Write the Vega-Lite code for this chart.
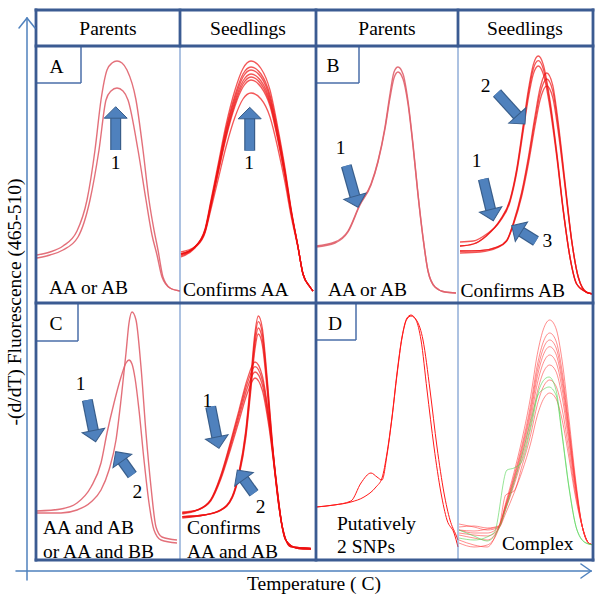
{
"$schema": "https://vega.github.io/schema/vega-lite/v6.json",
"width": 600, "height": 600, "padding": 0,
"autosize": {"type": "fit", "contains": "padding"},
"config": {"view": {"stroke": null}, "text": {"font": "Liberation Serif, Times New Roman, serif"}},
"datasets": {
"curves": [
{"c":"A1","k":"p","x":37,"y":255},{"c":"A1","k":"p","x":50,"y":252},{"c":"A1","k":"p","x":63,"y":246},{"c":"A1","k":"p","x":77,"y":231},{"c":"A1","k":"p","x":87,"y":200},{"c":"A1","k":"p","x":95,"y":150},{"c":"A1","k":"p","x":101,"y":100},{"c":"A1","k":"p","x":107,"y":70},{"c":"A1","k":"p","x":112,"y":63},{"c":"A1","k":"p","x":117,"y":61},{"c":"A1","k":"p","x":122,"y":63},{"c":"A1","k":"p","x":127,"y":70},{"c":"A1","k":"p","x":136,"y":100},{"c":"A1","k":"p","x":143,"y":150},{"c":"A1","k":"p","x":149,"y":200},{"c":"A1","k":"p","x":154,"y":230},{"c":"A1","k":"p","x":158,"y":250},{"c":"A1","k":"p","x":163,"y":277},{"c":"A1","k":"p","x":170,"y":288},{"c":"A1","k":"p","x":180,"y":291},
{"c":"A2","k":"p","x":37,"y":258},{"c":"A2","k":"p","x":50,"y":255},{"c":"A2","k":"p","x":63,"y":250},{"c":"A2","k":"p","x":78,"y":237},{"c":"A2","k":"p","x":90,"y":200},{"c":"A2","k":"p","x":99,"y":150},{"c":"A2","k":"p","x":106,"y":100},{"c":"A2","k":"p","x":111,"y":91},{"c":"A2","k":"p","x":117,"y":88},{"c":"A2","k":"p","x":123,"y":91},{"c":"A2","k":"p","x":128,"y":100},{"c":"A2","k":"p","x":138,"y":150},{"c":"A2","k":"p","x":146,"y":200},{"c":"A2","k":"p","x":152,"y":235},{"c":"A2","k":"p","x":157,"y":255},{"c":"A2","k":"p","x":162,"y":277},{"c":"A2","k":"p","x":170,"y":288},{"c":"A2","k":"p","x":180,"y":291},
{"c":"S1","k":"s","x":181,"y":252},{"c":"S1","k":"s","x":195,"y":246.5},{"c":"S1","k":"s","x":205,"y":229},{"c":"S1","k":"s","x":211,"y":200},{"c":"S1","k":"s","x":218,"y":165},{"c":"S1","k":"s","x":226,"y":125},{"c":"S1","k":"s","x":235,"y":90},{"c":"S1","k":"s","x":243,"y":68.5},{"c":"S1","k":"s","x":251,"y":61},{"c":"S1","k":"s","x":261,"y":68.5},{"c":"S1","k":"s","x":270,"y":90},{"c":"S1","k":"s","x":278,"y":128.6},{"c":"S1","k":"s","x":285,"y":168},{"c":"S1","k":"s","x":291,"y":208},{"c":"S1","k":"s","x":298,"y":246.5},{"c":"S1","k":"s","x":303,"y":274},{"c":"S1","k":"s","x":310,"y":287},{"c":"S1","k":"s","x":313,"y":291},
{"c":"S2","k":"s","x":181,"y":254},{"c":"S2","k":"s","x":195,"y":246.7},{"c":"S2","k":"s","x":205,"y":230},{"c":"S2","k":"s","x":211,"y":202},{"c":"S2","k":"s","x":218,"y":168},{"c":"S2","k":"s","x":226,"y":129},{"c":"S2","k":"s","x":235,"y":95},{"c":"S2","k":"s","x":243,"y":74},{"c":"S2","k":"s","x":251,"y":67},{"c":"S2","k":"s","x":261,"y":74},{"c":"S2","k":"s","x":270,"y":95},{"c":"S2","k":"s","x":278,"y":132},{"c":"S2","k":"s","x":285,"y":171},{"c":"S2","k":"s","x":291,"y":209},{"c":"S2","k":"s","x":298,"y":246.7},{"c":"S2","k":"s","x":303,"y":274},{"c":"S2","k":"s","x":310,"y":287},{"c":"S2","k":"s","x":313,"y":291},
{"c":"S3","k":"s","x":181,"y":255},{"c":"S3","k":"s","x":195,"y":246.8},{"c":"S3","k":"s","x":205,"y":230.5},{"c":"S3","k":"s","x":211,"y":203},{"c":"S3","k":"s","x":218,"y":169},{"c":"S3","k":"s","x":226,"y":131},{"c":"S3","k":"s","x":235,"y":98},{"c":"S3","k":"s","x":243,"y":77},{"c":"S3","k":"s","x":251,"y":70},{"c":"S3","k":"s","x":261,"y":77},{"c":"S3","k":"s","x":270,"y":98},{"c":"S3","k":"s","x":278,"y":134.4},{"c":"S3","k":"s","x":285,"y":172},{"c":"S3","k":"s","x":291,"y":210},{"c":"S3","k":"s","x":298,"y":246.8},{"c":"S3","k":"s","x":303,"y":274},{"c":"S3","k":"s","x":310,"y":287},{"c":"S3","k":"s","x":313,"y":291},
{"c":"S4","k":"s","x":181,"y":254},{"c":"S4","k":"s","x":195,"y":247},{"c":"S4","k":"s","x":205,"y":231},{"c":"S4","k":"s","x":211,"y":204},{"c":"S4","k":"s","x":218,"y":171},{"c":"S4","k":"s","x":226,"y":134},{"c":"S4","k":"s","x":235,"y":101},{"c":"S4","k":"s","x":243,"y":81},{"c":"S4","k":"s","x":251,"y":74},{"c":"S4","k":"s","x":261,"y":81},{"c":"S4","k":"s","x":270,"y":101},{"c":"S4","k":"s","x":278,"y":137},{"c":"S4","k":"s","x":285,"y":174},{"c":"S4","k":"s","x":291,"y":211},{"c":"S4","k":"s","x":298,"y":247},{"c":"S4","k":"s","x":303,"y":274},{"c":"S4","k":"s","x":310,"y":287},{"c":"S4","k":"s","x":313,"y":291},
{"c":"S5","k":"s","x":181,"y":256},{"c":"S5","k":"s","x":195,"y":247},{"c":"S5","k":"s","x":205,"y":231.4},{"c":"S5","k":"s","x":211,"y":205},{"c":"S5","k":"s","x":218,"y":172.4},{"c":"S5","k":"s","x":226,"y":136},{"c":"S5","k":"s","x":235,"y":103.6},{"c":"S5","k":"s","x":243,"y":84},{"c":"S5","k":"s","x":251,"y":77},{"c":"S5","k":"s","x":261,"y":84},{"c":"S5","k":"s","x":270,"y":103.6},{"c":"S5","k":"s","x":278,"y":139},{"c":"S5","k":"s","x":285,"y":175.4},{"c":"S5","k":"s","x":291,"y":211.7},{"c":"S5","k":"s","x":298,"y":247},{"c":"S5","k":"s","x":303,"y":274},{"c":"S5","k":"s","x":310,"y":287},{"c":"S5","k":"s","x":313,"y":291},
{"c":"S6","k":"s","x":181,"y":254},{"c":"S6","k":"s","x":195,"y":247},{"c":"S6","k":"s","x":205,"y":232},{"c":"S6","k":"s","x":211,"y":206},{"c":"S6","k":"s","x":218,"y":174},{"c":"S6","k":"s","x":226,"y":138},{"c":"S6","k":"s","x":235,"y":106},{"c":"S6","k":"s","x":243,"y":87},{"c":"S6","k":"s","x":251,"y":80},{"c":"S6","k":"s","x":261,"y":87},{"c":"S6","k":"s","x":270,"y":106},{"c":"S6","k":"s","x":278,"y":141},{"c":"S6","k":"s","x":285,"y":177},{"c":"S6","k":"s","x":291,"y":212},{"c":"S6","k":"s","x":298,"y":247},{"c":"S6","k":"s","x":303,"y":274},{"c":"S6","k":"s","x":310,"y":287},{"c":"S6","k":"s","x":313,"y":291},
{"c":"S7","k":"s","x":181,"y":257},{"c":"S7","k":"s","x":195,"y":248},{"c":"S7","k":"s","x":205,"y":233},{"c":"S7","k":"s","x":211,"y":209},{"c":"S7","k":"s","x":218,"y":180},{"c":"S7","k":"s","x":226,"y":147},{"c":"S7","k":"s","x":235,"y":117},{"c":"S7","k":"s","x":243,"y":99},{"c":"S7","k":"s","x":251,"y":93},{"c":"S7","k":"s","x":261,"y":99},{"c":"S7","k":"s","x":270,"y":117},{"c":"S7","k":"s","x":278,"y":149},{"c":"S7","k":"s","x":285,"y":182.5},{"c":"S7","k":"s","x":291,"y":215.6},{"c":"S7","k":"s","x":298,"y":248},{"c":"S7","k":"s","x":303,"y":274},{"c":"S7","k":"s","x":310,"y":287},{"c":"S7","k":"s","x":313,"y":291},
{"c":"B1","k":"p","x":316,"y":246},{"c":"B1","k":"p","x":335,"y":242},{"c":"B1","k":"p","x":348,"y":231},{"c":"B1","k":"p","x":360,"y":204},{"c":"B1","k":"p","x":371,"y":184},{"c":"B1","k":"p","x":378,"y":161},{"c":"B1","k":"p","x":385,"y":127},{"c":"B1","k":"p","x":390,"y":94},{"c":"B1","k":"p","x":394,"y":72},{"c":"B1","k":"p","x":398,"y":67},{"c":"B1","k":"p","x":403,"y":74},{"c":"B1","k":"p","x":408,"y":101},{"c":"B1","k":"p","x":413,"y":144},{"c":"B1","k":"p","x":418,"y":194},{"c":"B1","k":"p","x":423,"y":237},{"c":"B1","k":"p","x":428,"y":271},{"c":"B1","k":"p","x":435,"y":287},{"c":"B1","k":"p","x":445,"y":292},{"c":"B1","k":"p","x":456,"y":293},
{"c":"B2","k":"p","x":316,"y":247},{"c":"B2","k":"p","x":335,"y":243},{"c":"B2","k":"p","x":348,"y":232},{"c":"B2","k":"p","x":360,"y":205},{"c":"B2","k":"p","x":371,"y":185},{"c":"B2","k":"p","x":378,"y":162},{"c":"B2","k":"p","x":385,"y":129},{"c":"B2","k":"p","x":390,"y":98},{"c":"B2","k":"p","x":394,"y":78},{"c":"B2","k":"p","x":398,"y":72},{"c":"B2","k":"p","x":403,"y":79},{"c":"B2","k":"p","x":408,"y":104},{"c":"B2","k":"p","x":413,"y":146},{"c":"B2","k":"p","x":418,"y":195},{"c":"B2","k":"p","x":423,"y":238},{"c":"B2","k":"p","x":428,"y":271},{"c":"B2","k":"p","x":435,"y":287},{"c":"B2","k":"p","x":445,"y":292},{"c":"B2","k":"p","x":456,"y":293},
{"c":"T1","k":"s","x":460,"y":246},{"c":"T1","k":"s","x":473.3,"y":244},{"c":"T1","k":"s","x":486.7,"y":235.4},{"c":"T1","k":"s","x":500,"y":220.1},{"c":"T1","k":"s","x":510,"y":199.6},{"c":"T1","k":"s","x":516.7,"y":168.8},{"c":"T1","k":"s","x":523.3,"y":124.3},{"c":"T1","k":"s","x":528.3,"y":90.2},{"c":"T1","k":"s","x":533.3,"y":64.6},{"c":"T1","k":"s","x":538.3,"y":56},{"c":"T1","k":"s","x":543.3,"y":64.6},{"c":"T1","k":"s","x":550,"y":100.4},{"c":"T1","k":"s","x":556.7,"y":151.7},{"c":"T1","k":"s","x":563.3,"y":209.8},{"c":"T1","k":"s","x":570,"y":257.3},{"c":"T1","k":"s","x":576.7,"y":284},{"c":"T1","k":"s","x":586.7,"y":292.3},{"c":"T1","k":"s","x":594,"y":294},
{"c":"T2","k":"s","x":460,"y":246},{"c":"T2","k":"s","x":473.3,"y":244},{"c":"T2","k":"s","x":486.7,"y":235.7},{"c":"T2","k":"s","x":500,"y":220.7},{"c":"T2","k":"s","x":510,"y":200.7},{"c":"T2","k":"s","x":516.7,"y":170.7},{"c":"T2","k":"s","x":523.3,"y":127.3},{"c":"T2","k":"s","x":528.3,"y":94},{"c":"T2","k":"s","x":533.3,"y":69},{"c":"T2","k":"s","x":538.3,"y":60.7},{"c":"T2","k":"s","x":543.3,"y":69},{"c":"T2","k":"s","x":550,"y":104},{"c":"T2","k":"s","x":556.7,"y":154},{"c":"T2","k":"s","x":563.3,"y":210.7},{"c":"T2","k":"s","x":570,"y":257.3},{"c":"T2","k":"s","x":576.7,"y":284},{"c":"T2","k":"s","x":586.7,"y":292.3},{"c":"T2","k":"s","x":594,"y":294},
{"c":"T3","k":"s","x":460,"y":242},{"c":"T3","k":"s","x":473.3,"y":241},{"c":"T3","k":"s","x":486.7,"y":234},{"c":"T3","k":"s","x":500,"y":221.4},{"c":"T3","k":"s","x":510,"y":202},{"c":"T3","k":"s","x":516.7,"y":172.9},{"c":"T3","k":"s","x":523.3,"y":130.7},{"c":"T3","k":"s","x":528.3,"y":98.4},{"c":"T3","k":"s","x":533.3,"y":74.1},{"c":"T3","k":"s","x":538.3,"y":66},{"c":"T3","k":"s","x":543.3,"y":74.1},{"c":"T3","k":"s","x":550,"y":108.1},{"c":"T3","k":"s","x":556.7,"y":156.7},{"c":"T3","k":"s","x":563.3,"y":211.7},{"c":"T3","k":"s","x":570,"y":257.3},{"c":"T3","k":"s","x":576.7,"y":284},{"c":"T3","k":"s","x":586.7,"y":292.3},{"c":"T3","k":"s","x":594,"y":294},
{"c":"T4","k":"s","x":460,"y":251},{"c":"T4","k":"s","x":480,"y":250.7},{"c":"T4","k":"s","x":496.7,"y":247.2},{"c":"T4","k":"s","x":506.7,"y":240.3},{"c":"T4","k":"s","x":513.3,"y":223.1},{"c":"T4","k":"s","x":521.7,"y":192},{"c":"T4","k":"s","x":528.3,"y":157.5},{"c":"T4","k":"s","x":535,"y":116.1},{"c":"T4","k":"s","x":540,"y":88.5},{"c":"T4","k":"s","x":546.7,"y":73},{"c":"T4","k":"s","x":552.7,"y":85.1},{"c":"T4","k":"s","x":558.3,"y":123},{"c":"T4","k":"s","x":565,"y":181.7},{"c":"T4","k":"s","x":571.7,"y":240.3},{"c":"T4","k":"s","x":578.3,"y":277.3},{"c":"T4","k":"s","x":586.7,"y":292.3},{"c":"T4","k":"s","x":594,"y":294},
{"c":"T5","k":"s","x":460,"y":251},{"c":"T5","k":"s","x":480,"y":250.7},{"c":"T5","k":"s","x":496.7,"y":247.3},{"c":"T5","k":"s","x":506.7,"y":240.7},{"c":"T5","k":"s","x":513.3,"y":224},{"c":"T5","k":"s","x":521.7,"y":194},{"c":"T5","k":"s","x":528.3,"y":160.7},{"c":"T5","k":"s","x":535,"y":120.7},{"c":"T5","k":"s","x":540,"y":94},{"c":"T5","k":"s","x":546.7,"y":79},{"c":"T5","k":"s","x":552.7,"y":90.7},{"c":"T5","k":"s","x":558.3,"y":127.3},{"c":"T5","k":"s","x":565,"y":184},{"c":"T5","k":"s","x":571.7,"y":240.7},{"c":"T5","k":"s","x":578.3,"y":277.3},{"c":"T5","k":"s","x":586.7,"y":292.3},{"c":"T5","k":"s","x":594,"y":294},
{"c":"T6","k":"s","x":460,"y":253},{"c":"T6","k":"s","x":480,"y":252},{"c":"T6","k":"s","x":496.7,"y":248},{"c":"T6","k":"s","x":506.7,"y":241.1},{"c":"T6","k":"s","x":513.3,"y":225.1},{"c":"T6","k":"s","x":521.7,"y":196.3},{"c":"T6","k":"s","x":528.3,"y":164.4},{"c":"T6","k":"s","x":535,"y":126},{"c":"T6","k":"s","x":540,"y":100.4},{"c":"T6","k":"s","x":546.7,"y":86},{"c":"T6","k":"s","x":552.7,"y":97.3},{"c":"T6","k":"s","x":558.3,"y":132.4},{"c":"T6","k":"s","x":565,"y":186.7},{"c":"T6","k":"s","x":571.7,"y":241.1},{"c":"T6","k":"s","x":578.3,"y":277.3},{"c":"T6","k":"s","x":586.7,"y":292.3},{"c":"T6","k":"s","x":594,"y":294},
{"c":"C1","k":"p","x":37,"y":511},{"c":"C1","k":"p","x":61,"y":509},{"c":"C1","k":"p","x":77,"y":503},{"c":"C1","k":"p","x":91,"y":487},{"c":"C1","k":"p","x":101,"y":463},{"c":"C1","k":"p","x":107,"y":433},{"c":"C1","k":"p","x":114,"y":403},{"c":"C1","k":"p","x":121,"y":377},{"c":"C1","k":"p","x":126,"y":363},{"c":"C1","k":"p","x":129,"y":360},{"c":"C1","k":"p","x":132,"y":364},{"c":"C1","k":"p","x":135,"y":378},{"c":"C1","k":"p","x":139,"y":410},{"c":"C1","k":"p","x":144,"y":460},{"c":"C1","k":"p","x":149,"y":503},{"c":"C1","k":"p","x":154,"y":530},{"c":"C1","k":"p","x":161,"y":540},{"c":"C1","k":"p","x":177,"y":543},
{"c":"C2","k":"p","x":37,"y":513},{"c":"C2","k":"p","x":61,"y":513},{"c":"C2","k":"p","x":77,"y":510},{"c":"C2","k":"p","x":91,"y":502},{"c":"C2","k":"p","x":101,"y":490},{"c":"C2","k":"p","x":109,"y":470},{"c":"C2","k":"p","x":116,"y":440},{"c":"C2","k":"p","x":121,"y":400},{"c":"C2","k":"p","x":126,"y":353},{"c":"C2","k":"p","x":129,"y":323},{"c":"C2","k":"p","x":132,"y":312},{"c":"C2","k":"p","x":136,"y":320},{"c":"C2","k":"p","x":141,"y":367},{"c":"C2","k":"p","x":146,"y":433},{"c":"C2","k":"p","x":151,"y":487},{"c":"C2","k":"p","x":156,"y":527},{"c":"C2","k":"p","x":162,"y":537},{"c":"C2","k":"p","x":177,"y":540},
{"c":"U1","k":"s","x":182.3,"y":513},{"c":"U1","k":"s","x":197.3,"y":509.9},{"c":"U1","k":"s","x":210.7,"y":499.6},{"c":"U1","k":"s","x":220.7,"y":475.5},{"c":"U1","k":"s","x":230.7,"y":441.1},{"c":"U1","k":"s","x":239,"y":410.1},{"c":"U1","k":"s","x":247.3,"y":379.1},{"c":"U1","k":"s","x":255,"y":362},{"c":"U1","k":"s","x":262.3,"y":375.7},{"c":"U1","k":"s","x":269,"y":417},{"c":"U1","k":"s","x":275.7,"y":475.5},{"c":"U1","k":"s","x":282.3,"y":526.7},{"c":"U1","k":"s","x":290.7,"y":546.7},{"c":"U1","k":"s","x":310.7,"y":548.3},
{"c":"U2","k":"s","x":182.3,"y":513},{"c":"U2","k":"s","x":197.3,"y":510},{"c":"U2","k":"s","x":210.7,"y":500},{"c":"U2","k":"s","x":220.7,"y":476.7},{"c":"U2","k":"s","x":230.7,"y":443.3},{"c":"U2","k":"s","x":239,"y":413.3},{"c":"U2","k":"s","x":247.3,"y":383.3},{"c":"U2","k":"s","x":255,"y":366.7},{"c":"U2","k":"s","x":262.3,"y":380},{"c":"U2","k":"s","x":269,"y":420},{"c":"U2","k":"s","x":275.7,"y":476.7},{"c":"U2","k":"s","x":282.3,"y":526.7},{"c":"U2","k":"s","x":290.7,"y":546.7},{"c":"U2","k":"s","x":310.7,"y":548.3},
{"c":"U3","k":"s","x":182.3,"y":512},{"c":"U3","k":"s","x":197.3,"y":510.1},{"c":"U3","k":"s","x":210.7,"y":500.5},{"c":"U3","k":"s","x":220.7,"y":478},{"c":"U3","k":"s","x":230.7,"y":445.8},{"c":"U3","k":"s","x":239,"y":416.9},{"c":"U3","k":"s","x":247.3,"y":388},{"c":"U3","k":"s","x":255,"y":372},{"c":"U3","k":"s","x":262.3,"y":384.8},{"c":"U3","k":"s","x":269,"y":423.3},{"c":"U3","k":"s","x":275.7,"y":478},{"c":"U3","k":"s","x":282.3,"y":526.7},{"c":"U3","k":"s","x":290.7,"y":546.7},{"c":"U3","k":"s","x":310.7,"y":548.3},
{"c":"U4","k":"s","x":182.3,"y":514},{"c":"U4","k":"s","x":197.3,"y":510.2},{"c":"U4","k":"s","x":210.7,"y":501},{"c":"U4","k":"s","x":220.7,"y":479.5},{"c":"U4","k":"s","x":230.7,"y":448.7},{"c":"U4","k":"s","x":239,"y":421},{"c":"U4","k":"s","x":247.3,"y":393.3},{"c":"U4","k":"s","x":255,"y":378},{"c":"U4","k":"s","x":262.3,"y":390.2},{"c":"U4","k":"s","x":269,"y":427.2},{"c":"U4","k":"s","x":275.7,"y":479.5},{"c":"U4","k":"s","x":282.3,"y":526.7},{"c":"U4","k":"s","x":290.7,"y":546.7},{"c":"U4","k":"s","x":310.7,"y":548.3},
{"c":"U5","k":"s","x":182.3,"y":516.7},{"c":"U5","k":"s","x":204,"y":515},{"c":"U5","k":"s","x":220.7,"y":509.8},{"c":"U5","k":"s","x":232.3,"y":496.1},{"c":"U5","k":"s","x":239,"y":472},{"c":"U5","k":"s","x":245.7,"y":430.9},{"c":"U5","k":"s","x":250.7,"y":379.4},{"c":"U5","k":"s","x":254.7,"y":334.9},{"c":"U5","k":"s","x":258.3,"y":316},{"c":"U5","k":"s","x":262.3,"y":328},{"c":"U5","k":"s","x":267.3,"y":379.4},{"c":"U5","k":"s","x":272.3,"y":441.2},{"c":"U5","k":"s","x":279,"y":506.4},{"c":"U5","k":"s","x":285.7,"y":540},{"c":"U5","k":"s","x":297.3,"y":548.3},{"c":"U5","k":"s","x":311,"y":549},
{"c":"U6","k":"s","x":182.3,"y":516.7},{"c":"U6","k":"s","x":204,"y":515},{"c":"U6","k":"s","x":220.7,"y":510},{"c":"U6","k":"s","x":232.3,"y":496.7},{"c":"U6","k":"s","x":239,"y":473.3},{"c":"U6","k":"s","x":245.7,"y":433.3},{"c":"U6","k":"s","x":250.7,"y":383.3},{"c":"U6","k":"s","x":254.7,"y":340},{"c":"U6","k":"s","x":258.3,"y":321.7},{"c":"U6","k":"s","x":262.3,"y":333.3},{"c":"U6","k":"s","x":267.3,"y":383.3},{"c":"U6","k":"s","x":272.3,"y":443.3},{"c":"U6","k":"s","x":279,"y":506.7},{"c":"U6","k":"s","x":285.7,"y":540},{"c":"U6","k":"s","x":297.3,"y":548.3},{"c":"U6","k":"s","x":311,"y":549},
{"c":"U7","k":"s","x":182.3,"y":517},{"c":"U7","k":"s","x":204,"y":515},{"c":"U7","k":"s","x":220.7,"y":510.2},{"c":"U7","k":"s","x":232.3,"y":497.3},{"c":"U7","k":"s","x":239,"y":474.7},{"c":"U7","k":"s","x":245.7,"y":436},{"c":"U7","k":"s","x":250.7,"y":387.6},{"c":"U7","k":"s","x":254.7,"y":345.7},{"c":"U7","k":"s","x":258.3,"y":328},{"c":"U7","k":"s","x":262.3,"y":339.2},{"c":"U7","k":"s","x":267.3,"y":387.6},{"c":"U7","k":"s","x":272.3,"y":445.6},{"c":"U7","k":"s","x":279,"y":507},{"c":"U7","k":"s","x":285.7,"y":540},{"c":"U7","k":"s","x":297.3,"y":548.3},{"c":"U7","k":"s","x":311,"y":549},
{"c":"U8","k":"s","x":182.3,"y":518},{"c":"U8","k":"s","x":204,"y":515.1},{"c":"U8","k":"s","x":220.7,"y":510.4},{"c":"U8","k":"s","x":232.3,"y":498},{"c":"U8","k":"s","x":239,"y":476},{"c":"U8","k":"s","x":245.7,"y":438.6},{"c":"U8","k":"s","x":250.7,"y":391.7},{"c":"U8","k":"s","x":254.7,"y":351.1},{"c":"U8","k":"s","x":258.3,"y":334},{"c":"U8","k":"s","x":262.3,"y":344.9},{"c":"U8","k":"s","x":267.3,"y":391.7},{"c":"U8","k":"s","x":272.3,"y":447.9},{"c":"U8","k":"s","x":279,"y":507.3},{"c":"U8","k":"s","x":285.7,"y":540},{"c":"U8","k":"s","x":297.3,"y":548.3},{"c":"U8","k":"s","x":311,"y":549},
{"c":"D1","k":"dp","x":316,"y":507},{"c":"D1","k":"dp","x":334,"y":505},{"c":"D1","k":"dp","x":351,"y":502},{"c":"D1","k":"dp","x":364,"y":497},{"c":"D1","k":"dp","x":376,"y":487},{"c":"D1","k":"dp","x":382,"y":478},{"c":"D1","k":"dp","x":387,"y":453},{"c":"D1","k":"dp","x":392,"y":417},{"c":"D1","k":"dp","x":397,"y":373},{"c":"D1","k":"dp","x":402,"y":337},{"c":"D1","k":"dp","x":407,"y":318},{"c":"D1","k":"dp","x":411,"y":315},{"c":"D1","k":"dp","x":416,"y":320},{"c":"D1","k":"dp","x":421,"y":340},{"c":"D1","k":"dp","x":427,"y":390},{"c":"D1","k":"dp","x":434,"y":447},{"c":"D1","k":"dp","x":441,"y":493},{"c":"D1","k":"dp","x":447,"y":520},{"c":"D1","k":"dp","x":454,"y":533},{"c":"D1","k":"dp","x":458,"y":547},
{"c":"D2","k":"dp","x":316,"y":507},{"c":"D2","k":"dp","x":334,"y":505},{"c":"D2","k":"dp","x":351,"y":501},{"c":"D2","k":"dp","x":361,"y":483},{"c":"D2","k":"dp","x":371,"y":473},{"c":"D2","k":"dp","x":377,"y":477},{"c":"D2","k":"dp","x":382,"y":480},{"c":"D2","k":"dp","x":387,"y":455},{"c":"D2","k":"dp","x":392,"y":418},{"c":"D2","k":"dp","x":397,"y":375},{"c":"D2","k":"dp","x":402,"y":338},{"c":"D2","k":"dp","x":407,"y":319},{"c":"D2","k":"dp","x":411,"y":316},{"c":"D2","k":"dp","x":417,"y":321},{"c":"D2","k":"dp","x":423,"y":340},{"c":"D2","k":"dp","x":430,"y":390},{"c":"D2","k":"dp","x":437,"y":447},{"c":"D2","k":"dp","x":444,"y":493},{"c":"D2","k":"dp","x":450,"y":520},{"c":"D2","k":"dp","x":456,"y":535},{"c":"D2","k":"dp","x":458,"y":540},
{"c":"V1","k":"ds","x":459,"y":527},{"c":"V1","k":"ds","x":474,"y":526},{"c":"V1","k":"ds","x":487.3,"y":528},{"c":"V1","k":"ds","x":499,"y":525.8},{"c":"V1","k":"ds","x":505.7,"y":502.9},{"c":"V1","k":"ds","x":514,"y":472.4},{"c":"V1","k":"ds","x":522.3,"y":438.1},{"c":"V1","k":"ds","x":530.7,"y":396.2},{"c":"V1","k":"ds","x":537.3,"y":354.4},{"c":"V1","k":"ds","x":544,"y":327.6},{"c":"V1","k":"ds","x":549.7,"y":320},{"c":"V1","k":"ds","x":555.7,"y":327.6},{"c":"V1","k":"ds","x":562.3,"y":361.9},{"c":"V1","k":"ds","x":569,"y":419},{"c":"V1","k":"ds","x":575.7,"y":480.1},{"c":"V1","k":"ds","x":582.3,"y":526.7},{"c":"V1","k":"ds","x":589,"y":543.3},{"c":"V1","k":"ds","x":594,"y":545},
{"c":"V2","k":"ds","x":459,"y":540},{"c":"V2","k":"ds","x":474,"y":545},{"c":"V2","k":"ds","x":487.3,"y":547},{"c":"V2","k":"ds","x":499,"y":526.2},{"c":"V2","k":"ds","x":505.7,"y":504.8},{"c":"V2","k":"ds","x":514,"y":476.1},{"c":"V2","k":"ds","x":522.3,"y":443.9},{"c":"V2","k":"ds","x":530.7,"y":404.5},{"c":"V2","k":"ds","x":537.3,"y":365.2},{"c":"V2","k":"ds","x":544,"y":340.1},{"c":"V2","k":"ds","x":549.7,"y":333},{"c":"V2","k":"ds","x":555.7,"y":340.1},{"c":"V2","k":"ds","x":562.3,"y":372.3},{"c":"V2","k":"ds","x":569,"y":425.9},{"c":"V2","k":"ds","x":575.7,"y":483.3},{"c":"V2","k":"ds","x":582.3,"y":526.7},{"c":"V2","k":"ds","x":589,"y":543.3},{"c":"V2","k":"ds","x":594,"y":545},
{"c":"V3","k":"ds","x":459,"y":530},{"c":"V3","k":"ds","x":474,"y":531},{"c":"V3","k":"ds","x":487.3,"y":529},{"c":"V3","k":"ds","x":499,"y":526.5},{"c":"V3","k":"ds","x":505.7,"y":505.8},{"c":"V3","k":"ds","x":514,"y":478.1},{"c":"V3","k":"ds","x":522.3,"y":447},{"c":"V3","k":"ds","x":530.7,"y":409},{"c":"V3","k":"ds","x":537.3,"y":371.1},{"c":"V3","k":"ds","x":544,"y":346.8},{"c":"V3","k":"ds","x":549.7,"y":340},{"c":"V3","k":"ds","x":555.7,"y":346.8},{"c":"V3","k":"ds","x":562.3,"y":377.9},{"c":"V3","k":"ds","x":569,"y":429.7},{"c":"V3","k":"ds","x":575.7,"y":485},{"c":"V3","k":"ds","x":582.3,"y":526.7},{"c":"V3","k":"ds","x":589,"y":543.3},{"c":"V3","k":"ds","x":594,"y":545},
{"c":"V4","k":"ds","x":459,"y":530},{"c":"V4","k":"ds","x":474,"y":533},{"c":"V4","k":"ds","x":487.3,"y":533},{"c":"V4","k":"ds","x":499,"y":526.7},{"c":"V4","k":"ds","x":505.7,"y":506.7},{"c":"V4","k":"ds","x":514,"y":480},{"c":"V4","k":"ds","x":522.3,"y":450},{"c":"V4","k":"ds","x":530.7,"y":413.3},{"c":"V4","k":"ds","x":537.3,"y":376.7},{"c":"V4","k":"ds","x":544,"y":353.3},{"c":"V4","k":"ds","x":549.7,"y":346.7},{"c":"V4","k":"ds","x":555.7,"y":353.3},{"c":"V4","k":"ds","x":562.3,"y":383.3},{"c":"V4","k":"ds","x":569,"y":433.3},{"c":"V4","k":"ds","x":575.7,"y":486.7},{"c":"V4","k":"ds","x":582.3,"y":526.7},{"c":"V4","k":"ds","x":589,"y":543.3},{"c":"V4","k":"ds","x":594,"y":545},
{"c":"V5","k":"ds","x":459,"y":535},{"c":"V5","k":"ds","x":474,"y":538},{"c":"V5","k":"ds","x":487.3,"y":540},{"c":"V5","k":"ds","x":499,"y":527},{"c":"V5","k":"ds","x":505.7,"y":507.9},{"c":"V5","k":"ds","x":514,"y":482.4},{"c":"V5","k":"ds","x":522.3,"y":453.7},{"c":"V5","k":"ds","x":530.7,"y":418.7},{"c":"V5","k":"ds","x":537.3,"y":383.7},{"c":"V5","k":"ds","x":544,"y":361.4},{"c":"V5","k":"ds","x":549.7,"y":355},{"c":"V5","k":"ds","x":555.7,"y":361.4},{"c":"V5","k":"ds","x":562.3,"y":390},{"c":"V5","k":"ds","x":569,"y":437.8},{"c":"V5","k":"ds","x":575.7,"y":488.8},{"c":"V5","k":"ds","x":582.3,"y":526.7},{"c":"V5","k":"ds","x":589,"y":543.3},{"c":"V5","k":"ds","x":594,"y":545},
{"c":"V6","k":"ds","x":459,"y":524},{"c":"V6","k":"ds","x":474,"y":527},{"c":"V6","k":"ds","x":487.3,"y":530},{"c":"V6","k":"ds","x":499,"y":527.3},{"c":"V6","k":"ds","x":505.7,"y":509.3},{"c":"V6","k":"ds","x":514,"y":485.2},{"c":"V6","k":"ds","x":522.3,"y":458.1},{"c":"V6","k":"ds","x":530.7,"y":425},{"c":"V6","k":"ds","x":537.3,"y":392},{"c":"V6","k":"ds","x":544,"y":370.9},{"c":"V6","k":"ds","x":549.7,"y":365},{"c":"V6","k":"ds","x":555.7,"y":370.9},{"c":"V6","k":"ds","x":562.3,"y":398},{"c":"V6","k":"ds","x":569,"y":443.1},{"c":"V6","k":"ds","x":575.7,"y":491.2},{"c":"V6","k":"ds","x":582.3,"y":526.7},{"c":"V6","k":"ds","x":589,"y":543.3},{"c":"V6","k":"ds","x":594,"y":545},
{"c":"V7","k":"ds","x":459,"y":543},{"c":"V7","k":"ds","x":474,"y":547},{"c":"V7","k":"ds","x":487.3,"y":545},{"c":"V7","k":"ds","x":499,"y":527.8},{"c":"V7","k":"ds","x":505.7,"y":495},{"c":"V7","k":"ds","x":514,"y":491},{"c":"V7","k":"ds","x":522.3,"y":464.9},{"c":"V7","k":"ds","x":530.7,"y":434.7},{"c":"V7","k":"ds","x":537.3,"y":404.7},{"c":"V7","k":"ds","x":544,"y":385.5},{"c":"V7","k":"ds","x":549.7,"y":380},{"c":"V7","k":"ds","x":555.7,"y":385.5},{"c":"V7","k":"ds","x":562.3,"y":410.1},{"c":"V7","k":"ds","x":569,"y":451.1},{"c":"V7","k":"ds","x":575.7,"y":495},{"c":"V7","k":"ds","x":582.3,"y":526.7},{"c":"V7","k":"ds","x":589,"y":543.3},{"c":"V7","k":"ds","x":594,"y":545},
{"c":"V8","k":"ds","x":459,"y":533},{"c":"V8","k":"ds","x":474,"y":535},{"c":"V8","k":"ds","x":487.3,"y":536},{"c":"V8","k":"ds","x":499,"y":528.3},{"c":"V8","k":"ds","x":505.7,"y":513.2},{"c":"V8","k":"ds","x":514,"y":493.2},{"c":"V8","k":"ds","x":522.3,"y":470.7},{"c":"V8","k":"ds","x":530.7,"y":443.1},{"c":"V8","k":"ds","x":537.3,"y":415.6},{"c":"V8","k":"ds","x":544,"y":398.1},{"c":"V8","k":"ds","x":549.7,"y":393},{"c":"V8","k":"ds","x":555.7,"y":398.1},{"c":"V8","k":"ds","x":562.3,"y":420.6},{"c":"V8","k":"ds","x":569,"y":458.1},{"c":"V8","k":"ds","x":575.7,"y":498.2},{"c":"V8","k":"ds","x":582.3,"y":526.7},{"c":"V8","k":"ds","x":589,"y":543.3},{"c":"V8","k":"ds","x":594,"y":545},
{"c":"G1","k":"g","x":459,"y":538},{"c":"G1","k":"g","x":474,"y":540},{"c":"G1","k":"g","x":494,"y":533},{"c":"G1","k":"g","x":507,"y":470},{"c":"G1","k":"g","x":514,"y":468},{"c":"G1","k":"g","x":521,"y":463},{"c":"G1","k":"g","x":531,"y":427},{"c":"G1","k":"g","x":539,"y":390},{"c":"G1","k":"g","x":546,"y":378},{"c":"G1","k":"g","x":549,"y":377},{"c":"G1","k":"g","x":556,"y":390},{"c":"G1","k":"g","x":562,"y":433},{"c":"G1","k":"g","x":569,"y":487},{"c":"G1","k":"g","x":577,"y":530},{"c":"G1","k":"g","x":586,"y":543},{"c":"G1","k":"g","x":594,"y":545},
{"c":"G2","k":"g","x":459,"y":530},{"c":"G2","k":"g","x":474,"y":536},{"c":"G2","k":"g","x":487,"y":541},{"c":"G2","k":"g","x":499,"y":528},{"c":"G2","k":"g","x":507,"y":505},{"c":"G2","k":"g","x":514,"y":482},{"c":"G2","k":"g","x":522,"y":455},{"c":"G2","k":"g","x":531,"y":420},{"c":"G2","k":"g","x":538,"y":395},{"c":"G2","k":"g","x":544,"y":389},{"c":"G2","k":"g","x":549,"y":387},{"c":"G2","k":"g","x":556,"y":395},{"c":"G2","k":"g","x":562,"y":435},{"c":"G2","k":"g","x":569,"y":488},{"c":"G2","k":"g","x":577,"y":530},{"c":"G2","k":"g","x":586,"y":543},{"c":"G2","k":"g","x":594,"y":545}
],
"lines": [
{"g":"thick","x":36,"y":10,"x2":593,"y2":10},
{"g":"thick","x":36,"y":560,"x2":593,"y2":560},
{"g":"thick","x":36,"y":10,"x2":36,"y2":560},
{"g":"thick","x":593,"y":10,"x2":593,"y2":560},
{"g":"thick","x":36,"y":46,"x2":593,"y2":46},
{"g":"thick","x":180,"y":10,"x2":180,"y2":46},
{"g":"thick","x":316,"y":10,"x2":316,"y2":560},
{"g":"thick","x":458,"y":10,"x2":458,"y2":46},
{"g":"thick","x":36,"y":303,"x2":593,"y2":303},
{"g":"thin","x":180,"y":46,"x2":180,"y2":560},
{"g":"thin","x":458,"y":46,"x2":458,"y2":560},
{"g":"box","x":36,"y":83,"x2":81,"y2":83},
{"g":"box","x":81,"y":46,"x2":81,"y2":83},
{"g":"box","x":316,"y":83,"x2":359,"y2":83},
{"g":"box","x":359,"y":46,"x2":359,"y2":83},
{"g":"box","x":36,"y":341,"x2":78,"y2":341},
{"g":"box","x":78,"y":303,"x2":78,"y2":341},
{"g":"box","x":316,"y":340,"x2":356,"y2":340},
{"g":"box","x":356,"y":303,"x2":356,"y2":340},
{"g":"axis","x":27,"y":580,"x2":27,"y2":18},
{"g":"axis","x":19,"y":28,"x2":27,"y2":18},
{"g":"axis","x":35,"y":28,"x2":27,"y2":18},
{"g":"axis","x":16,"y":571,"x2":591,"y2":571},
{"g":"axis","x":581,"y":564,"x2":591,"y2":571},
{"g":"axis","x":581,"y":578,"x2":591,"y2":571}
],
"arrows": [
{"tx":115.7,"ty":150,"nx":115.7,"ny":117.2,"px":115.7,"py":106.7,"a":0},
{"tx":249.7,"ty":150.7,"nx":249.7,"ny":117.8,"px":249.7,"py":107.3,"a":0},
{"tx":346.3,"ty":165.7,"nx":355.2,"ny":197.2,"px":358,"py":207.3,"a":164.3},
{"tx":483.3,"ty":179,"nx":490.9,"ny":210.5,"px":493.3,"py":220.7,"a":166.5},
{"tx":497,"ty":93,"nx":518,"ny":116.2,"px":525,"py":124,"a":138},
{"tx":536,"ty":241,"nx":520.6,"ny":231.3,"px":511.7,"py":225.7,"a":302.2},
{"tx":87.3,"ty":400,"nx":93.6,"ny":431.4,"px":95.7,"py":441.7,"a":168.6},
{"tx":132.3,"ty":475,"nx":121.8,"ny":460.3,"px":115.7,"py":451.7,"a":324.6},
{"tx":210.7,"ty":406.7,"nx":216.9,"ny":438,"px":219,"py":448.3,"a":168.7},
{"tx":254,"ty":493.3,"nx":243.4,"ny":478.5,"px":237.3,"py":470,"a":324.4}
],
"texts": [
{"g":"c","t":"Parents","x":108,"y":35},
{"g":"c","t":"Seedlings","x":248,"y":35},
{"g":"c","t":"Parents","x":387,"y":35},
{"g":"c","t":"Seedlings","x":525,"y":35},
{"g":"c","t":"A","x":56.5,"y":72.5},
{"g":"c","t":"B","x":333,"y":72},
{"g":"c","t":"C","x":56,"y":330},
{"g":"c","t":"D","x":335,"y":329.5},
{"g":"c","t":"1","x":115.7,"y":169},
{"g":"c","t":"1","x":249,"y":169},
{"g":"c","t":"1","x":340.7,"y":154},
{"g":"c","t":"1","x":476.7,"y":167},
{"g":"c","t":"2","x":485.7,"y":92},
{"g":"c","t":"3","x":547.3,"y":247},
{"g":"c","t":"1","x":80.7,"y":390},
{"g":"c","t":"2","x":137.3,"y":498},
{"g":"c","t":"1","x":207.3,"y":407},
{"g":"c","t":"2","x":260.7,"y":513},
{"g":"c","t":"Temperature ( C)","x":314,"y":590},
{"g":"l","t":"AA or AB","x":49,"y":294},
{"g":"l","t":"Confirms AA","x":183,"y":296},
{"g":"l","t":"AA or AB","x":328,"y":296},
{"g":"l","t":"Confirms AB","x":460.5,"y":297},
{"g":"l","t":"AA and AB","x":43,"y":534},
{"g":"l","t":"or AA and BB","x":43,"y":558},
{"g":"l","t":"Confirms","x":187,"y":534},
{"g":"l","t":"AA and AB","x":187,"y":558},
{"g":"l","t":"Putatively","x":337,"y":530},
{"g":"l","t":"2 SNPs","x":337,"y":553},
{"g":"l","t":"Complex","x":502,"y":550},
{"g":"r","t":"-(d/dT) Fluorescence (465-510)","x":21,"y":302}
]
},
"encoding": {
"x": {"field": "x", "type": "quantitative", "scale": {"domain": [0, 600], "nice": false, "zero": false}, "axis": null},
"y": {"field": "y", "type": "quantitative", "scale": {"domain": [0, 600], "nice": false, "zero": false, "reverse": true}, "axis": null}
},
"layer": [
{"data": {"name": "curves"}, "transform": [{"filter": "datum.k == 'ds'"}], "mark": {"type": "line", "interpolate": "monotone", "stroke": "#ff3030", "strokeWidth": 1, "opacity": 0.55}, "encoding": {"detail": {"field": "c"}}},
{"data": {"name": "curves"}, "transform": [{"filter": "datum.k == 'g'"}], "mark": {"type": "line", "interpolate": "monotone", "stroke": "#5ad65a", "strokeWidth": 0.9, "opacity": 0.7}, "encoding": {"detail": {"field": "c"}}},
{"data": {"name": "curves"}, "transform": [{"filter": "datum.k == 'p'"}], "mark": {"type": "line", "interpolate": "monotone", "stroke": "#e0606c", "strokeWidth": 1.4, "opacity": 0.9}, "encoding": {"detail": {"field": "c"}}},
{"data": {"name": "curves"}, "transform": [{"filter": "datum.k == 's'"}], "mark": {"type": "line", "interpolate": "monotone", "stroke": "#ee1010", "strokeWidth": 1.3, "opacity": 0.7}, "encoding": {"detail": {"field": "c"}}},
{"data": {"name": "curves"}, "transform": [{"filter": "datum.k == 'dp'"}], "mark": {"type": "line", "interpolate": "monotone", "stroke": "#ff1a1a", "strokeWidth": 1}, "encoding": {"detail": {"field": "c"}}},
{"data": {"name": "lines"}, "transform": [{"filter": "datum.g == 'thin'"}], "mark": {"type": "rule", "color": "#5b85c4", "strokeWidth": 1}, "encoding": {"x2": {"field": "x2"}, "y2": {"field": "y2"}}},
{"data": {"name": "lines"}, "transform": [{"filter": "datum.g == 'box'"}], "mark": {"type": "rule", "color": "#4a6ea8", "strokeWidth": 1.5}, "encoding": {"x2": {"field": "x2"}, "y2": {"field": "y2"}}},
{"data": {"name": "lines"}, "transform": [{"filter": "datum.g == 'thick'"}], "mark": {"type": "rule", "color": "#3b5b92", "strokeWidth": 2.8, "strokeCap": "square"}, "encoding": {"x2": {"field": "x2"}, "y2": {"field": "y2"}}},
{"data": {"name": "lines"}, "transform": [{"filter": "datum.g == 'axis'"}], "mark": {"type": "rule", "color": "#4f81bd", "strokeWidth": 1.5, "strokeCap": "round"}, "encoding": {"x2": {"field": "x2"}, "y2": {"field": "y2"}}},
{"data": {"name": "arrows"}, "mark": {"type": "rule", "color": "#385d8a", "strokeWidth": 11, "strokeCap": "butt"}, "encoding": {"x": {"field": "tx", "type": "quantitative"}, "y": {"field": "ty", "type": "quantitative"}, "x2": {"field": "nx"}, "y2": {"field": "ny"}}},
{"data": {"name": "arrows"}, "mark": {"type": "rule", "color": "#4f81bd", "strokeWidth": 8.6, "strokeCap": "butt"}, "encoding": {"x": {"field": "tx", "type": "quantitative"}, "y": {"field": "ty", "type": "quantitative"}, "x2": {"field": "nx"}, "y2": {"field": "ny"}}},
{"data": {"name": "arrows"}, "mark": {"type": "point", "shape": "M0,0L-1,1L1,1Z", "size": 529, "filled": true, "fill": "#4f81bd", "stroke": "#385d8a", "strokeWidth": 1, "opacity": 1}, "encoding": {"x": {"field": "px", "type": "quantitative"}, "y": {"field": "py", "type": "quantitative"}, "angle": {"field": "a", "type": "quantitative", "scale": {"domain": [0, 360], "range": [0, 360]}, "legend": null}}},
{"data": {"name": "texts"}, "transform": [{"filter": "datum.g == 'c'"}], "mark": {"type": "text", "font": "Liberation Serif, Times New Roman, serif", "fontSize": 19.5, "align": "center", "baseline": "alphabetic", "color": "#000000"}, "encoding": {"text": {"field": "t"}}},
{"data": {"name": "texts"}, "transform": [{"filter": "datum.g == 'l'"}], "mark": {"type": "text", "font": "Liberation Serif, Times New Roman, serif", "fontSize": 19.5, "align": "left", "baseline": "alphabetic", "color": "#000000"}, "encoding": {"text": {"field": "t"}}},
{"data": {"name": "texts"}, "transform": [{"filter": "datum.g == 'r'"}], "mark": {"type": "text", "font": "Liberation Serif, Times New Roman, serif", "fontSize": 19.5, "align": "center", "baseline": "alphabetic", "angle": 270, "color": "#000000"}, "encoding": {"text": {"field": "t"}}}
]
}
